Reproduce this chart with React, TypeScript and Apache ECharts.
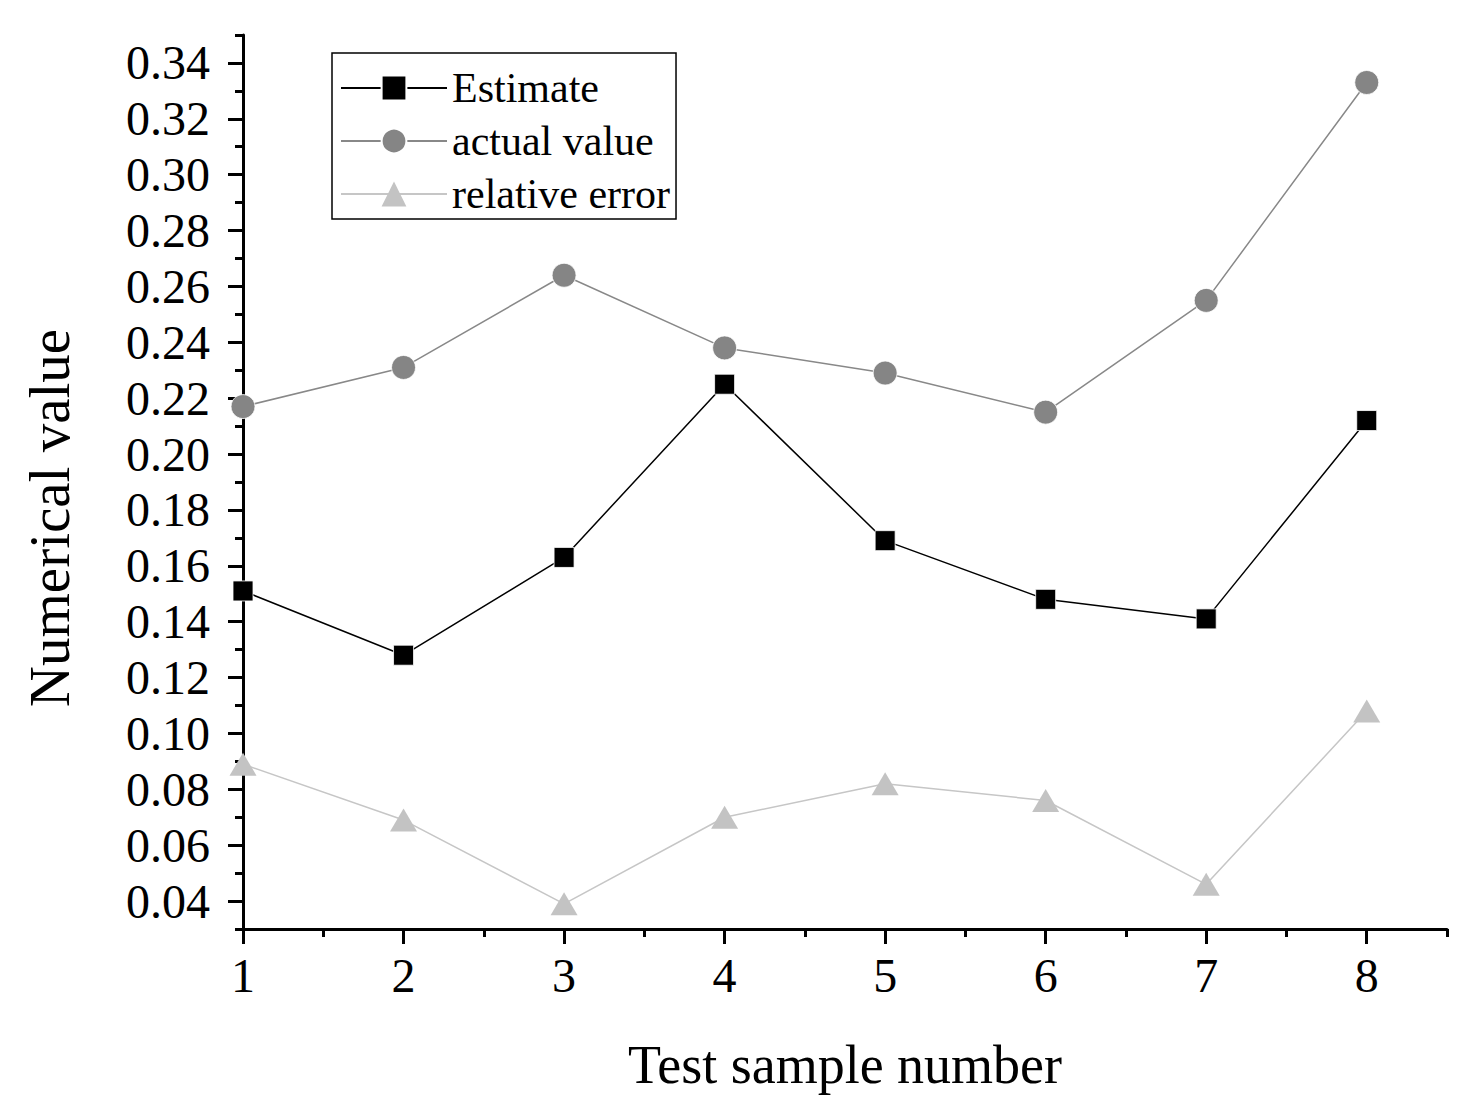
import React, { useEffect, useRef } from "react";
import * as echarts from "echarts";

const xValues = [1, 2, 3, 4, 5, 6, 7, 8];
const estimate = [0.151, 0.128, 0.163, 0.225, 0.169, 0.148, 0.141, 0.212];
const actualValue = [0.217, 0.231, 0.264, 0.238, 0.229, 0.215, 0.255, 0.333];
const relativeError = [0.089, 0.069, 0.039, 0.07, 0.082, 0.076, 0.046, 0.108];
const xTickValues = [1, 2, 3, 4, 5, 6, 7, 8];
const yTickValues = [0.04, 0.06, 0.08, 0.1, 0.12, 0.14, 0.16, 0.18, 0.2, 0.22, 0.24, 0.26, 0.28, 0.3, 0.32, 0.34];

const FONT = "'Liberation Serif', 'Times New Roman', serif";

export default function App() {
  const ref = useRef<HTMLDivElement>(null);
  useEffect(() => {
    if (!ref.current) return;
    const chart = echarts.init(ref.current, undefined, { renderer: "svg" });
    const pair = (ys: number[]) => xValues.map((x, i) => [x, ys[i]]);
    const axisLineStyle = { color: "#000", width: 3 };
    chart.setOption({
      animation: false,
      backgroundColor: "#fff",
      grid: { left: 243, top: 35, right: 29, bottom: 191, containLabel: false, outerBoundsMode: "none" },
      legend: {
        orient: "vertical",
        left: 332,
        top: 53,
        itemWidth: 106,
        itemHeight: 31,
        itemGap: 11,
        padding: [14, 6, 4, 8],
        borderColor: "#000",
        borderWidth: 1.5,
        textStyle: { fontFamily: FONT, fontSize: 42, color: "#000" },
        data: ["Estimate", "actual value", "relative error"],
      },
      xAxis: [
        {
          type: "value",
          min: 1,
          max: 8.5,
          interval: 1,
          name: "Test sample number",
          nameLocation: "middle",
          nameGap: 109,
          nameTextStyle: { fontFamily: FONT, fontSize: 54, color: "#000" },
          axisLine: { show: true, lineStyle: axisLineStyle },
          axisTick: { show: true, inside: false, length: 15, lineStyle: axisLineStyle, customValues: xTickValues },
          axisLabel: {
            customValues: xTickValues,
            margin: 22,
            fontFamily: FONT,
            fontSize: 48,
            color: "#000",
            formatter: (v: number) => String(v),
          },
          splitLine: { show: false },
        },
        {
          type: "value",
          position: "bottom",
          min: 1,
          max: 8.5,
          interval: 0.5,
          axisLine: { show: false },
          axisTick: { show: true, inside: false, length: 8, lineStyle: axisLineStyle },
          axisLabel: { show: false },
          splitLine: { show: false },
        },
      ],
      yAxis: [
        {
          type: "value",
          min: 0.03,
          max: 0.35,
          interval: 0.01,
          name: "Numerical value",
          nameLocation: "middle",
          nameGap: 165,
          nameTextStyle: { fontFamily: FONT, fontSize: 57, color: "#000", padding: [0, 72, 0, 0] },
          axisLine: { show: true, lineStyle: axisLineStyle },
          axisTick: { show: true, inside: false, length: 15, lineStyle: axisLineStyle, customValues: yTickValues },
          axisLabel: {
            customValues: yTickValues,
            margin: 33,
            fontFamily: FONT,
            fontSize: 48,
            color: "#000",
            formatter: (v: number) => v.toFixed(2),
          },
          splitLine: { show: false },
        },
        {
          type: "value",
          position: "left",
          min: 0.03,
          max: 0.35,
          interval: 0.01,
          axisLine: { show: false },
          axisTick: { show: true, inside: false, length: 8, lineStyle: axisLineStyle },
          axisLabel: { show: false },
          splitLine: { show: false },
        },
      ],
      series: [
        {
          name: "Estimate",
          type: "line",
          data: pair(estimate),
          symbol: "rect",
          symbolSize: 20,
          lineStyle: { color: "#000", width: 1.5 },
          itemStyle: { color: "#000", borderColor: "#fff", borderWidth: 0.8 },
        },
        {
          name: "actual value",
          type: "line",
          data: pair(actualValue),
          symbol: "circle",
          symbolSize: 24,
          lineStyle: { color: "#888", width: 1.5 },
          itemStyle: { color: "#858585", borderColor: "#fff", borderWidth: 0.8 },
        },
        {
          name: "relative error",
          type: "line",
          data: pair(relativeError),
          symbol: "triangle",
          symbolSize: [27, 23],
          lineStyle: { color: "#c6c6c6", width: 1.5 },
          itemStyle: { color: "#c3c3c3" },
        },
      ],
    });
    return () => chart.dispose();
  }, []);
  return (
    <div
      ref={ref}
      style={{ position: "fixed", left: 0, top: 0, width: 1476, height: 1120, background: "#fff" }}
    />
  );
}
